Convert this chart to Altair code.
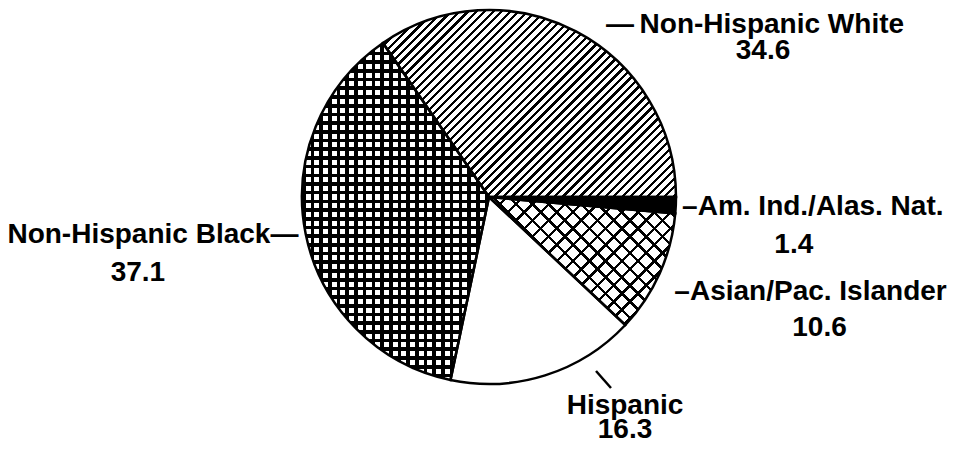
import math
import altair as alt
import pandas as pd

# ---- data ----
groups = ["Am. Ind./Alas. Nat.", "Asian/Pac. Islander", "Hispanic",
          "Non-Hispanic Black", "Non-Hispanic White"]
values = [1.4, 10.6, 16.3, 37.1, 34.6]
name_labels = ["\u2013Am. Ind./Alas. Nat.", "\u2013Asian/Pac. Islander", "Hispanic",
               "Non-Hispanic Black\u2014", "\u2014\u2009Non-Hispanic White"]

df = pd.DataFrame({"group": groups, "value": values, "name": name_labels,
                   "order": list(range(len(groups)))})
TOTAL = sum(values)

# ---- layout / style ----
CX, CY, R = 481, 189, 187
FONT = "Liberation Sans"
FS = 28
OUT_W = 2.5

theta_scale = alt.Scale(domain=[0, TOTAL], range=[math.pi / 2, math.pi / 2 + 2 * math.pi])


def slice_box(g):
    """width/height of a slice's bounding box (for sizing hatch gradients)."""
    i = groups.index(g)
    f0 = sum(values[:i]) / TOTAL
    f1 = sum(values[: i + 1]) / TOTAL
    a0 = math.pi / 2 + f0 * 2 * math.pi
    a1 = math.pi / 2 + f1 * 2 * math.pi
    pts = [(0.0, 0.0), (R * math.sin(a0), -R * math.cos(a0)), (R * math.sin(a1), -R * math.cos(a1))]
    k = math.ceil(a0 / (math.pi / 2))
    while k * math.pi / 2 <= a1:
        a = k * math.pi / 2
        pts.append((R * math.sin(a), -R * math.cos(a)))
        k += 1
    xs = [p[0] for p in pts]
    ys = [p[1] for p in pts]
    return max(xs) - min(xs), max(ys) - min(ys)


def stops(period_t, line_t, color="black", gap="rgba(0,0,0,0)"):
    out = []
    t = 0.0
    while t < 1:
        for off, col in ((t, color), (t + line_t, color), (t + line_t, gap), (t + period_t, gap)):
            out.append({"offset": round(min(max(off, 0.0), 1.0), 5), "color": col})
        t += period_t
    return out


def hatch(g, kind, period, line):
    w, h = slice_box(g)
    if kind in ("/", "\\"):
        s = w * (w + h) / (w * w + h * h)
        pt = period * math.sqrt(2) / (w + h)
        lt = line * math.sqrt(2) / (w + h)
        if kind == "/":
            xy = dict(x1=0, y1=0, x2=s, y2=s * h / w)
        else:
            xy = dict(x1=0, y1=1, x2=s, y2=1 - s * h / w)
    elif kind == "h":
        pt, lt = period / h, line / h
        xy = dict(x1=0, y1=0, x2=0, y2=1)
    else:
        pt, lt = period / w, line / w
        xy = dict(x1=0, y1=0, x2=1, y2=0)
    return {"gradient": "linear", "stops": stops(pt, lt), **xy}


base = alt.Chart(df).transform_window(
    cum="sum(value)", sort=[alt.SortField("order")]
).transform_calculate(
    start="datum.cum - datum.value", mid="datum.cum - datum.value / 2"
)


def arcs(group=None, **mk):
    ch = base
    if group is not None:
        ch = ch.transform_filter(alt.datum.group == group)
    return ch.mark_arc(radius=R, **mk).encode(
        theta=alt.Theta("start:Q", scale=theta_scale, stack=False),
        theta2="cum:Q",
        x=alt.value(CX), y=alt.value(CY),
    )


layers = [
    arcs(fill="white", strokeWidth=0),
    arcs("Non-Hispanic White", fill=hatch("Non-Hispanic White", "/", 6.0, 2.3), strokeWidth=0),
    arcs("Non-Hispanic Black", fill=hatch("Non-Hispanic Black", "h", 8.7, 3.6), strokeWidth=0),
    arcs("Non-Hispanic Black", fill=hatch("Non-Hispanic Black", "v", 8.7, 3.6), strokeWidth=0),
    arcs("Asian/Pac. Islander", fill=hatch("Asian/Pac. Islander", "/", 11.5, 2.4), strokeWidth=0),
    arcs("Asian/Pac. Islander", fill=hatch("Asian/Pac. Islander", "\\", 11.5, 2.4), strokeWidth=0),
    arcs("Am. Ind./Alas. Nat.", fill="black", strokeWidth=0),
    arcs(fill="white", fillOpacity=0, stroke="black", strokeWidth=OUT_W),
]

# label offsets (name line, value line) relative to the slice's mid-angle anchor
LABEL_R = 200
label_pos = {
    "Non-Hispanic White": ((173, 13), (181, 39)),
    "Am. Ind./Alas. Nat.": ((124, 9), (105, 47)),
    "Asian/Pac. Islander": ((139, 21), (148, 57)),
    "Hispanic": ((76, 26), (76, 50)),
    "Non-Hispanic Black": ((-140, 7), (-155, 45)),
}

for g, ((ndx, ndy), (vdx, vdy)) in label_pos.items():
    sub = base.transform_filter(alt.datum.group == g)
    common = dict(radius=LABEL_R, align="center", baseline="alphabetic",
                  font=FONT, fontSize=FS, fontWeight="bold", color="black")
    enc = dict(theta=alt.Theta("mid:Q", scale=theta_scale, stack=False),
               x=alt.value(CX), y=alt.value(CY))
    layers.append(sub.mark_text(dx=ndx, dy=ndy, **common).encode(text="name:N", **enc))
    layers.append(sub.mark_text(dx=vdx, dy=vdy, **common).encode(
        text=alt.Text("value:Q", format=".1f"), **enc))

# leader line for the Hispanic label
layers.append(
    base.transform_filter(alt.datum.group == "Hispanic").mark_rule(
        strokeWidth=2.5, color="black"
    ).encode(x=alt.value(588), y=alt.value(363), x2=alt.value(603), y2=alt.value(380))
)

chart = alt.layer(*layers).properties(
    width=940, height=437, padding=0,
    autosize=alt.AutoSizeParams(type="none"),
).configure_view(stroke="transparent")

chart.save("out.html", embed_options={"renderer": "svg", "actions": False})
